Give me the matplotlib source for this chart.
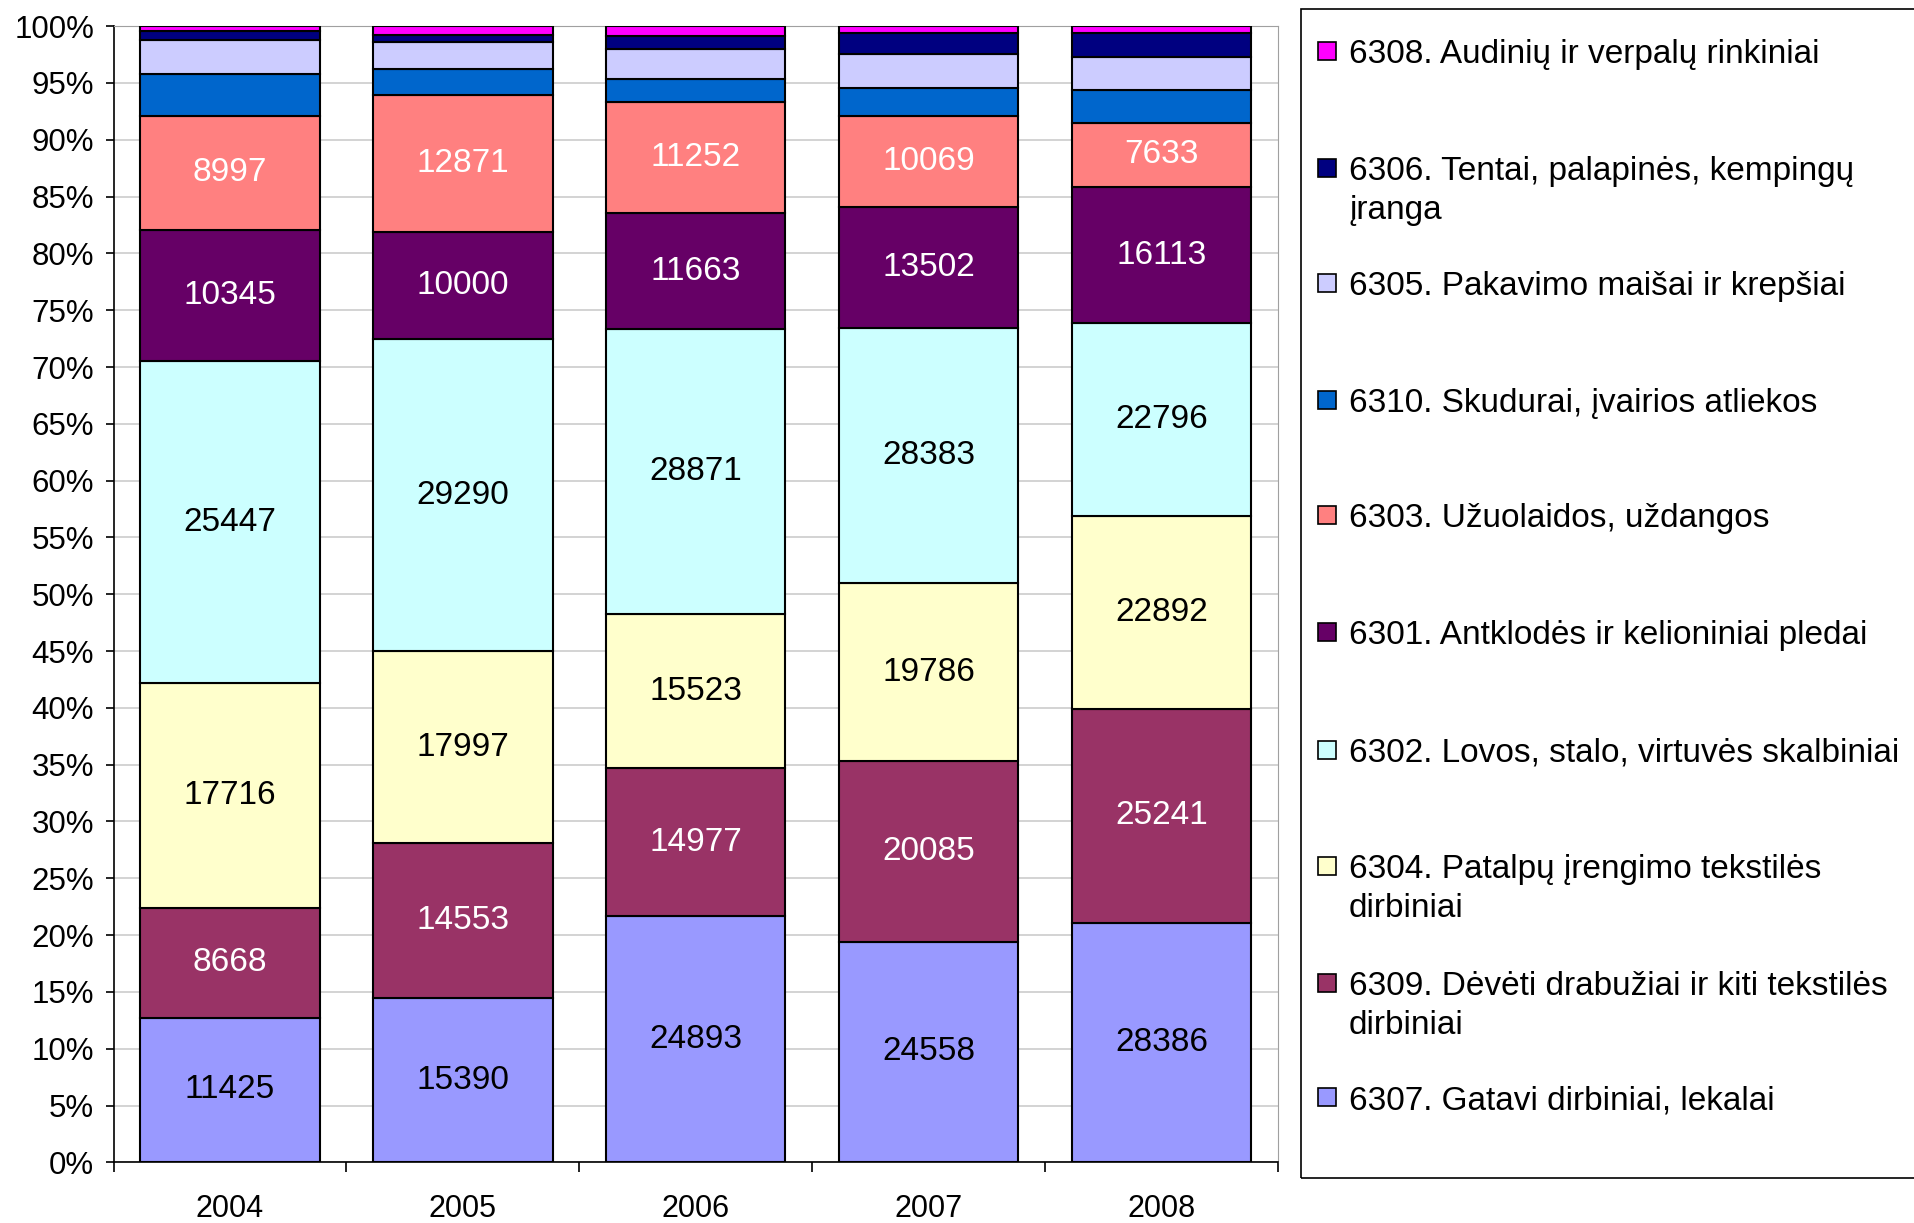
"""Stacked 100% bar chart of textile import groups, 2004-2008."""

import matplotlib
matplotlib.use("Agg")
import matplotlib.pyplot as plt
from matplotlib.patches import Rectangle
import numpy as np

plt.rcParams["font.family"] = ["Liberation Sans", "DejaVu Sans"]

years = ["2004", "2005", "2006", "2007", "2008"]

# series, bottom to top
v6307 = [11425, 15390, 24893, 24558, 28386]
v6309 = [8668, 14553, 14977, 20085, 25241]
v6304 = [17716, 17997, 15523, 19786, 22892]
v6302 = [25447, 29290, 28871, 28383, 22796]
v6301 = [10345, 10000, 11663, 13502, 16113]
v6303 = [8997, 12871, 11252, 10069, 7633]
v6310 = [3282, 2408, 2286, 3109, 3900]   # unlabelled
v6305 = [2654, 2590, 3101, 3779, 3860]
v6306 = [735, 660, 1309, 2376, 2878]
v6308 = [395, 810, 976, 745, 793]

series_names = [
    "6307. Gatavi dirbiniai, lekalai",
    "6309. Dėvėti drabužiai ir kiti tekstilės\ndirbiniai",
    "6304. Patalpų įrengimo tekstilės\ndirbiniai",
    "6302. Lovos, stalo, virtuvės skalbiniai",
    "6301. Antklodės ir kelioniniai pledai",
    "6303. Užuolaidos, uždangos",
    "6310. Skudurai, įvairios atliekos",
    "6305. Pakavimo maišai ir krepšiai",
    "6306. Tentai, palapinės, kempingų\nįranga",
    "6308. Audinių ir verpalų rinkiniai",
]
series_values = [v6307, v6309, v6304, v6302, v6301, v6303, v6310, v6305, v6306, v6308]
colors = ["#9999FF", "#993366", "#FFFFCC", "#CCFFFF", "#660066",
          "#FF8080", "#0066CC", "#CCCCFF", "#000080", "#FF00FF"]
show_label = [True, True, True, True, True, True, False, False, False, False]
label_color = ["black", "white", "black", "black", "white", "white",
               "black", "black", "black", "black"]

data = np.array(series_values, dtype=float)
shares = data / data.sum(axis=0) * 100

fig = plt.figure(figsize=(19.14, 12.23), dpi=100)
ax = fig.add_axes([0.0593, 0.0496, 0.6084, 0.929])

x = np.arange(len(years))
bottom = np.zeros(len(years))
for i in range(len(series_values)):
    ax.bar(x, shares[i], width=0.77, bottom=bottom, color=colors[i],
           edgecolor="black", linewidth=1.5, zorder=3)
    if show_label[i]:
        for j in range(len(years)):
            ax.text(x[j], bottom[j] + shares[i][j] / 2, f"{int(series_values[i][j])}",
                    ha="center", va="center", fontsize=24, color=label_color[i], zorder=4)
    bottom += shares[i]

ax.set_xlim(-0.5, len(years) - 0.5)
ax.set_ylim(0, 100)
ax.set_yticks(np.arange(0, 101, 5))
ax.set_yticklabels([f"{t}%" for t in range(0, 101, 5)], fontsize=22.5)
ax.set_xticks(x)
ax.set_xticklabels(years, fontsize=22)
ax.set_xticks(np.arange(-0.5, len(years), 1), minor=True)
ax.tick_params(axis="x", which="major", length=0, pad=23)
ax.tick_params(axis="x", which="minor", length=7, width=1.2)
ax.tick_params(axis="y", length=6, width=1.2, pad=8)
ax.grid(axis="y", color="#CCCCCC", linewidth=1.2, zorder=0)
for side in ["top", "right"]:
    ax.spines[side].set_color("#A0A0A0")
for side in ["left", "bottom"]:
    ax.spines[side].set_linewidth(1.2)

# legend drawn by hand to match the wrapped layout
W, H = 1914, 1223
fig.patches.append(Rectangle((1301 / W, 1 - 1178 / H), 1.0, (1178 - 8.5) / H,
                             transform=fig.transFigure, fill=False,
                             edgecolor="black", linewidth=1.2))
legend_y = [1097, 983, 866, 750, 632, 515, 400, 283, 168, 51]
for i in range(len(series_names)):
    yy = legend_y[i]
    fig.patches.append(Rectangle(((1327 - 9) / W, 1 - (yy + 9) / H), 18 / W, 18 / H,
                                 transform=fig.transFigure, facecolor=colors[i],
                                 edgecolor="black", linewidth=1.2))
    for k, line in enumerate(series_names[i].split("\n")):
        fig.text(1349 / W, 1 - (yy + 12 + 39 * k) / H, line, ha="left",
                 va="baseline", fontsize=24)

fig.savefig("out.png", dpi=100)
